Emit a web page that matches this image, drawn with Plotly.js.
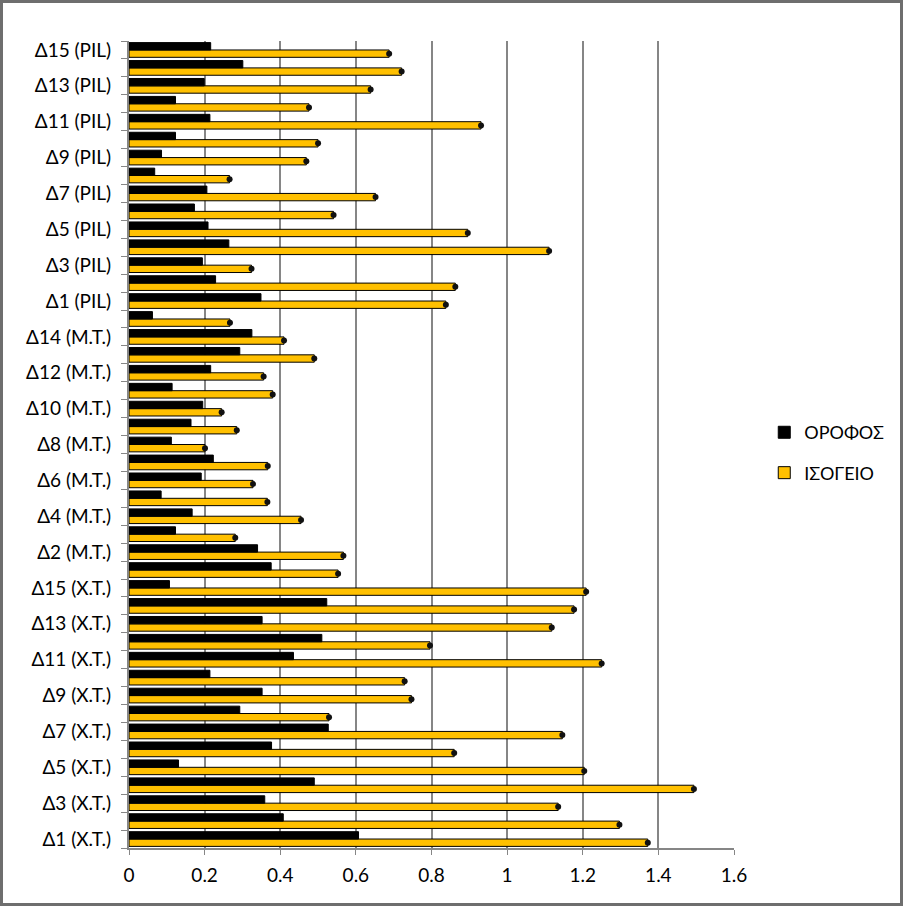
<!DOCTYPE html>
<html>
<head>
<meta charset="utf-8">
<script src="https://cdn.plot.ly/plotly-3.0.1.min.js"></script>
<style>
  html, body { margin: 0; padding: 0; background: #fff; }
  #wrap { position: relative; width: 903px; height: 906px; }
  #chart { width: 903px; height: 906px; }
  #frame { position: absolute; left: 0; top: 0; width: 903px; height: 906px; box-sizing: border-box; border: 3px solid #6e6e6e; pointer-events: none; }
</style>
</head>
<body>
<div id="wrap"><div id="chart"></div><div id="frame"></div></div>
<script>
// Categories, bottom to top
const categories = [
  "Δ1 (X.T.)","Δ2 (X.T.)","Δ3 (X.T.)","Δ4 (X.T.)","Δ5 (X.T.)","Δ6 (X.T.)","Δ7 (X.T.)","Δ8 (X.T.)",
  "Δ9 (X.T.)","Δ10 (X.T.)","Δ11 (X.T.)","Δ12 (X.T.)","Δ13 (X.T.)","Δ14 (X.T.)","Δ15 (X.T.)",
  "Δ1 (M.T.)","Δ2 (M.T.)","Δ3 (M.T.)","Δ4 (M.T.)","Δ5 (M.T.)","Δ6 (M.T.)","Δ7 (M.T.)","Δ8 (M.T.)",
  "Δ9 (M.T.)","Δ10 (M.T.)","Δ11 (M.T.)","Δ12 (M.T.)","Δ13 (M.T.)","Δ14 (M.T.)","Δ15 (M.T.)",
  "Δ1 (PIL)","Δ2 (PIL)","Δ3 (PIL)","Δ4 (PIL)","Δ5 (PIL)","Δ6 (PIL)","Δ7 (PIL)","Δ8 (PIL)",
  "Δ9 (PIL)","Δ10 (PIL)","Δ11 (PIL)","Δ12 (PIL)","Δ13 (PIL)","Δ14 (PIL)","Δ15 (PIL)"
];

// ΟΡΟΦΟΣ (black)
const orofos = [
  0.607,0.408,0.359,0.490,0.131,0.377,0.527,0.293,0.352,0.214,0.435,0.510,0.352,0.523,0.107,
  0.376,0.340,0.123,0.167,0.085,0.191,0.223,0.112,0.164,0.195,0.114,0.216,0.293,0.325,0.062,
  0.349,0.229,0.194,0.264,0.209,0.173,0.206,0.068,0.086,0.123,0.214,0.123,0.199,0.301,0.216
];

// ΙΣΟΓΕΙΟ (gold)
const isogeio = [
  1.372,1.297,1.135,1.494,1.204,0.860,1.146,0.529,0.747,0.729,1.250,0.796,1.118,1.177,1.209,
  0.553,0.567,0.281,0.455,0.366,0.328,0.367,0.201,0.285,0.245,0.380,0.356,0.490,0.410,0.267,
  0.838,0.863,0.324,1.111,0.896,0.541,0.652,0.266,0.469,0.500,0.931,0.476,0.639,0.721,0.688
];

const xTicks = [0, 0.2, 0.4, 0.6, 0.8, 1, 1.2, 1.4, 1.6];
const xTickText = ["0", "0.2", "0.4", "0.6", "0.8", "1", "1.2", "1.4", "1.6"];

// Show every second category label (as in the original)
const yTickText = categories.map((c, i) => (i % 2 === 0 ? c : ""));

const FONT = "Lato, 'Noto Sans', sans-serif";
const BARGAP = 0.18;
const barWidth = (1 - BARGAP) / 2;
// 3D-style end caps on the gold bars: placed on a numeric overlay axis aligned to category index
const capY = categories.map((c, i) => i - barWidth / 2);

const traces = [
  {
    type: "bar", orientation: "h", name: "ΙΣΟΓΕΙΟ",
    y: categories, x: isogeio, legendgroup: "g2", legendrank: 2,
    marker: { color: "#FFC000", line: { color: "#000000", width: 1 } }
  },
  {
    type: "bar", orientation: "h", name: "ΟΡΟΦΟΣ",
    y: categories, x: orofos, legendgroup: "g1", legendrank: 1,
    marker: { color: "#000000", line: { color: "#000000", width: 1 } }
  },
  {
    type: "scatter", mode: "markers", showlegend: false, hoverinfo: "skip",
    x: isogeio, y: capY, yaxis: "y2", cliponaxis: false,
    marker: { symbol: "circle", size: 6, color: "#111111", line: { width: 0 } }
  }
];

const layout = {
  width: 903, height: 906,
  margin: { l: 129, r: 169, t: 41, b: 58 },
  paper_bgcolor: "#ffffff", plot_bgcolor: "#ffffff",
  barmode: "group", bargap: BARGAP, bargroupgap: 0.0,
  font: { family: FONT, size: 19, color: "#000000" },
  showlegend: true,
  legend: {
    x: 1.05, xanchor: "left", y: 0.49, yanchor: "middle",
    traceorder: "grouped", tracegroupgap: 14,
    font: { family: FONT, size: 18, color: "#000" },
    bgcolor: "rgba(0,0,0,0)"
  },
  xaxis: {
    range: [0, 1.6], tickvals: xTicks, ticktext: xTickText,
    showgrid: true, gridcolor: "#868686", gridwidth: 2,
    zeroline: false, showline: true, linecolor: "#868686", linewidth: 2,
    ticks: "outside", ticklen: 5, tickcolor: "#868686", tickwidth: 1,
    ticklabelstandoff: 4,
    tickfont: { family: FONT, size: 19, color: "#000" }, fixedrange: true
  },
  yaxis: {
    type: "category", categoryorder: "array", categoryarray: categories,
    range: [-0.5, categories.length - 0.5],
    tickvals: categories, ticktext: yTickText, tickson: "boundaries",
    showgrid: false, zeroline: false,
    showline: true, linecolor: "#868686", linewidth: 2,
    ticks: "outside", ticklen: 6, tickcolor: "#868686", tickwidth: 1,
    ticklabelstandoff: 12,
    tickfont: { family: FONT, size: 19, color: "#000" }, fixedrange: true
  },
  yaxis2: {
    type: "linear", overlaying: "y", side: "left",
    range: [-0.5, categories.length - 0.5],
    showgrid: false, zeroline: false, showline: false,
    showticklabels: false, ticks: "", fixedrange: true
  }
};

Plotly.newPlot("chart", traces, layout, { displayModeBar: false, staticPlot: true });
</script>
</body>
</html>
